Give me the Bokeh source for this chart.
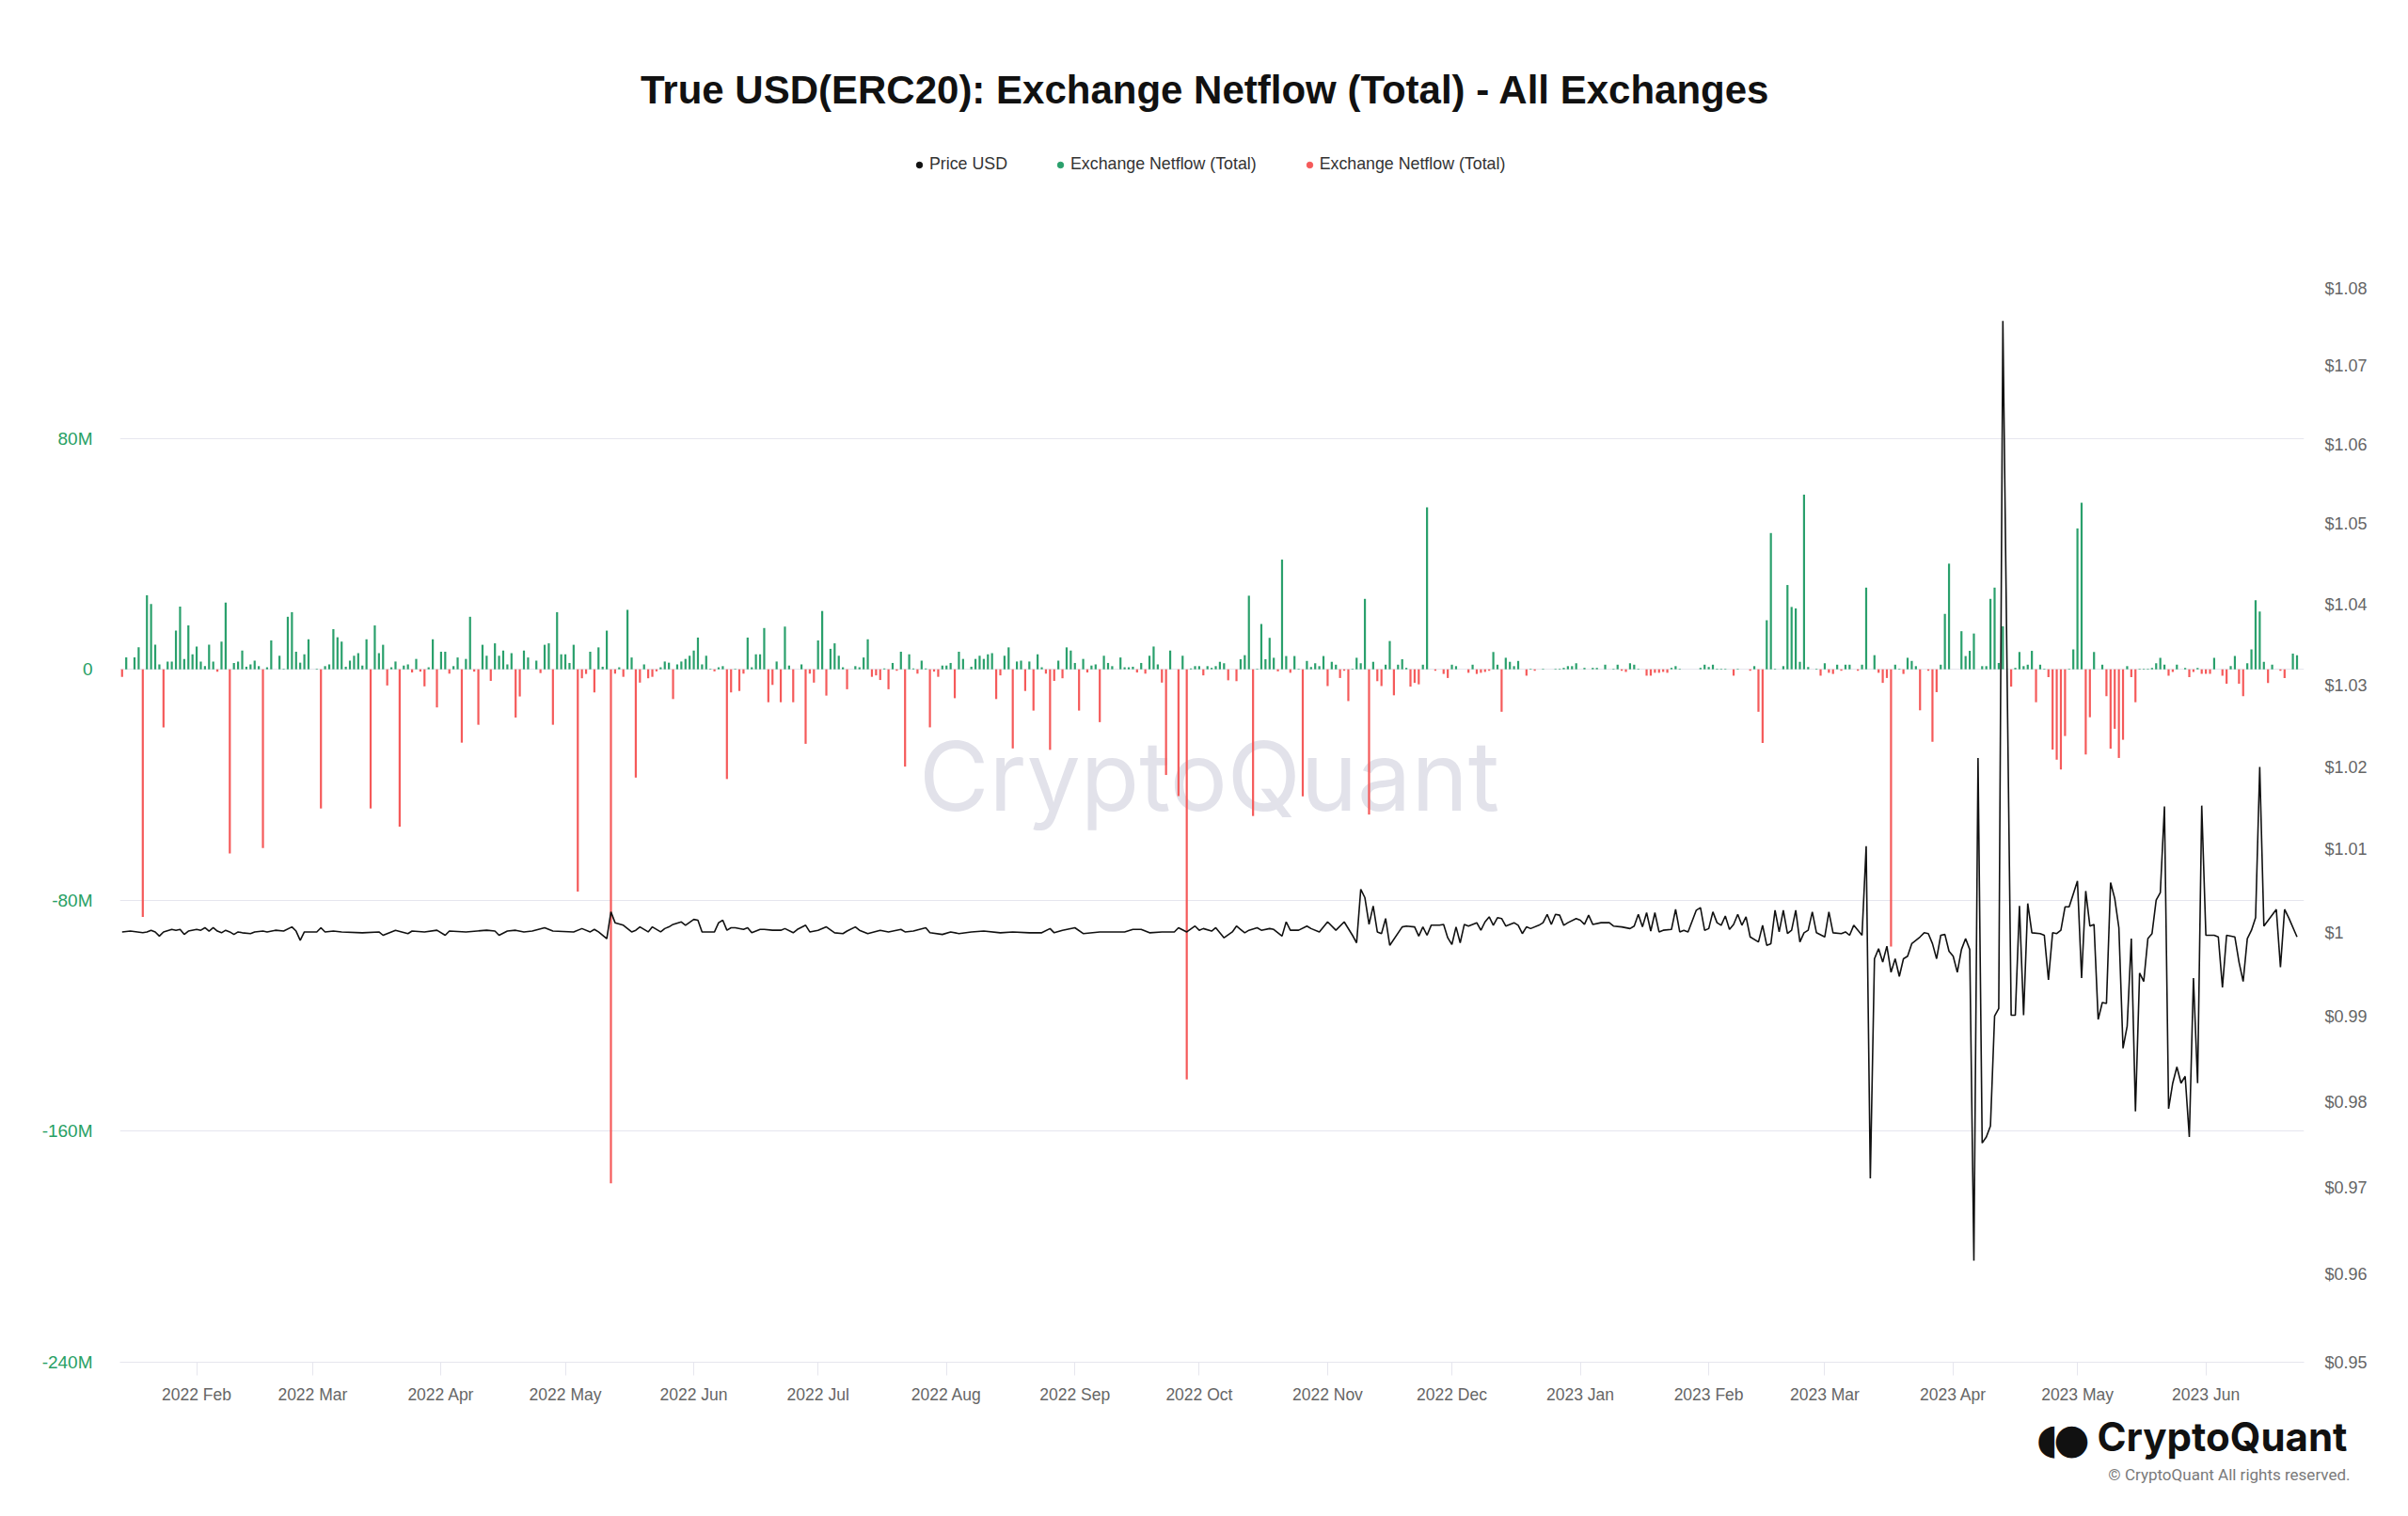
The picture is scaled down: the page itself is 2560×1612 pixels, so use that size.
import numpy as np
import pandas as pd
from bokeh.plotting import figure
from bokeh.layouts import column
from bokeh.models import (Range1d, LinearAxis, LogScale, FixedTicker, CustomJSTickFormatter,
                          DatetimeTickFormatter, Legend, LegendItem, Label, ColumnDataSource)
from bokeh.embed import file_html
from bokeh.resources import INLINE

# ---------------- data ----------------
START_DATE = "2022-01-14"   # day 0 of the daily series

# daily exchange netflow, million USD (day 0 .. 525)
netflow_musd = [
    -2.6, 4.1, 0, 4.1, 7.6, -85.8, 25.6, 22.6, 8.5, 1.7,          # 0
    -20.1, 2.7, 2.7, 13.4, 21.7, 3.6, 15.2, 5.2, 7.9, 2.7,        # 10
    1.1, 8.5, 2.7, -0.8, 9.6, 23.1, -63.8, 2.2, 2.7, 6.5,         # 20
    0.9, 1.7, 3.0, 1.1, -61.9, 0.7, 10.0, 0, 4.7, 0.2,            # 30
    18.2, 19.8, 6.1, 2.3, 5.2, 10.4, 0, 0.2, -48.2, 1.1,          # 40
    1.7, 13.9, 11.1, 9.6, 0.9, 3.0, 4.7, 5.6, 1.3, 10.4,          # 50
    -48.2, 15.2, 5.6, 8.5, -5.6, 0.7, 2.7, -54.5, 1.3, 1.7,       # 60
    -1.1, 3.6, -0.8, -5.9, 0.7, 10.4, -13.2, 6.1, 6.1, -1.5,      # 70
    1.1, 4.1, -25.4, 3.6, 18.2, -0.8, -19.2, 8.5, 4.7, -4.0,      # 80
    9.0, 4.7, 6.5, 1.7, 5.6, -16.7, -9.4, 6.5, 4.1, 0,            # 90
    3.0, -1.3, 8.5, 9.0, -19.2, 19.8, 5.2, 5.2, 2.2, 8.5,         # 100
    -77.0, -3.1, -1.6, 6.1, -8.0, 7.6, 0.9, 13.4, -178.0, -1.5,   # 110
    0.7, -2.6, 20.6, 4.1, -37.5, -4.6, 1.7, -3.1, -2.6, -0.7,     # 120
    0.7, 2.7, 2.3, -10.3, 1.7, 2.7, 3.6, 4.7, 6.5, 11.0,          # 130
    1.7, 4.7, 0.2, -0.7, 0.7, 1.1, -38.0, -8.0, 0.2, -7.5,        # 140
    -1.5, 11.0, 0.7, 5.2, 5.2, 14.3, -11.4, -5.4, 2.7, -11.4,     # 150
    14.8, 1.3, -11.4, 0, 1.7, -25.8, -1.5, -4.6, 10.0, 20.2,      # 160
    -9.1, 7.1, 9.0, 4.7, 0.7, -6.9, 0, 1.1, 0.7, 4.1,             # 170
    10.4, -2.6, -2.1, -3.7, 0.3, -6.9, 2.2, -0.5, 6.1, -33.7,     # 180
    5.2, 0.3, -1.5, 3.0, 0.3, -20.1, -0.8, -2.6, 1.3, 1.3,        # 190
    2.2, -10.0, 6.1, 3.6, 0, 0.9, 3.6, 4.7, 3.6, 5.2,             # 200
    5.6, -10.3, -2.1, 4.7, 7.6, -27.4, 2.7, 3.0, -7.5, 2.7,       # 210
    -14.3, 5.2, 0.7, -1.5, -27.9, -4.0, 3.0, -3.1, 7.6, 6.5,      # 220
    2.2, -14.3, 3.6, -1.1, 1.3, 1.7, -18.3, 4.7, 2.2, 1.1,        # 230
    0, 4.1, 0.7, 0.7, 0.9, -1.1, 2.2, -1.5, 4.7, 7.9,             # 240
    1.7, -4.6, -36.6, 6.5, 0, -43.9, 4.7, -142.0, 0.3, 1.1,       # 250
    1.1, -2.1, 1.1, 0.5, 1.1, 2.6, 2.1, -3.8, 0, -4.1,            # 260
    3.5, 4.9, 25.5, -50.8, 0.2, 15.7, 3.5, 10.9, 4.0, -0.7,       # 270
    38.0, 4.6, -1.2, 4.6, 0.2, -44.0, 2.9, 0.8, 2.1, 1.1,         # 280
    4.6, -5.8, 2.6, 1.6, -3.0, -0.5, -11.0, 0.2, 4.0, 2.1,        # 290
    24.4, -50.3, 2.6, -4.1, -5.8, 1.6, 9.8, -9.0, 1.6, 3.5,       # 300
    0.5, -6.0, -4.7, -5.2, 1.6, 56.1, 0, -0.5, 0, -1.6,           # 310
    -3.0, 1.6, 1.1, 0, 0, -1.2, 1.6, -1.6, -1.2, -0.9,            # 320
    -0.5, 6.0, 1.6, -14.7, 4.0, 2.6, 1.1, 2.9, 0, -2.2,           # 330
    0.2, -0.5, 0, 0.2, 0, 0, 0.2, 0.2, 0.5, 1.1,                  # 340
    1.1, 2.1, 0, 0.5, 0, 0.5, 0.5, 0, 1.6, 0,                     # 350
    0.2, 1.6, -0.5, -0.9, 2.1, 1.6, 0.2, 0, -2.2, -2.2,           # 360
    -1.2, -1.2, -0.9, -1.2, 0.5, 1.1, 0.2, 0, 0, 0,               # 370
    0, 0.5, 1.6, 0.8, 1.6, 0.2, 0.2, 0.2, 0, -2.2,                # 380
    0.2, 0, 0, -0.5, 1.1, -14.7, -25.5, 17.0, 47.2, 0.2,          # 390
    0, 1.1, 29.2, 21.6, 21.1, 2.6, 60.5, 0.8, 0, 0.2,             # 400
    -2.2, 2.1, -1.2, -1.6, 1.6, -0.5, 1.6, 1.6, 0, -0.5,          # 410
    1.6, 28.3, 0, 4.9, -1.2, -4.7, -3.0, -96.0, 1.6, 0.2,         # 420
    -1.6, 4.0, 2.9, 1.1, -14.2, 0, -0.5, -25.1, -7.9, 1.6,        # 430
    19.2, 36.6, 0, 0, 13.2, 4.6, 6.4, 12.4, 0, 1.1,               # 440
    1.1, 24.4, 28.3, 2.2, 14.9, 0, -6.0, 0.5, 6.0, 1.1,           # 450
    1.6, 6.4, -11.4, 1.6, 0.2, -2.7, -27.8, -31.3, -34.7, -23.1,  # 460
    0.2, 6.9, 48.8, 57.7, -29.5, -16.6, 6.0, 0, 1.6, -9.3,        # 470
    -27.5, -20.6, -30.7, -24.4, 1.1, -2.7, -11.4, 0.2, 0.2, 0.2,  # 480
    0.5, 2.1, 4.0, 1.6, -2.2, -0.9, 1.6, 0, 0.5, -2.7,            # 490
    -0.9, 0.5, -1.6, -1.6, -1.6, 4.0, 0, -2.2, -5.0, 1.1,         # 500
    4.6, -5.0, -9.3, 2.1, 6.9, 23.9, 20.0, 2.6, -4.7, 1.6,        # 510
    0, -0.5, -3.0, 0, 5.4, 4.9,                                   # 520
]

# price readings: (day offset from START_DATE, price in USD)
price_readings = [
    (0, 1.0001), (2, 1.0002), (5, 1.0000), (6, 1.0001), (7, 1.0003), (8, 1.0001), (9, 0.9996),
    (10, 1.0001), (12, 1.0004), (13, 1.0003), (14, 1.0004), (15, 0.9998), (16, 1.0002), (18, 1.0004),
    (19, 1.0003), (20, 1.0006), (21, 1.0002), (22, 1.0006), (23, 1.0002), (24, 1.0000), (25, 1.0003),
    (26, 1.0001), (27, 0.9998), (28, 1.0001), (29, 1.0000), (31, 0.9999), (32, 1.0001), (34, 1.0002),
    (35, 1.0001), (37, 1.0003), (39, 1.0002), (41, 1.0007), (42, 1.0002), (43, 0.9991), (44, 1.0001),
    (47, 1.0001), (48, 1.0006), (49, 1.0001), (51, 1.0002), (53, 1.0001), (58, 1.0000), (62, 1.0001),
    (63, 0.9997), (65, 1.0001), (66, 1.0003), (69, 0.9999), (70, 1.0002), (73, 1.0001), (76, 1.0003),
    (78, 0.9997), (79, 1.0002), (83, 1.0001), (88, 1.0003), (90, 1.0002), (91, 0.9997), (93, 1.0002),
    (95, 1.0003), (97, 1.0001), (99, 1.0002), (102, 1.0006), (104, 1.0002), (109, 1.0001), (111, 1.0005),
    (113, 1.0001), (114, 1.0004), (115, 1.0001), (117, 0.9993), (118, 1.0025), (119, 1.0012), (121, 1.0009),
    (123, 1.0001), (124, 1.0003), (125, 1.0007), (127, 1.0001), (128, 1.0007), (130, 1.0001),
    (131, 1.0005), (132, 1.0007), (133, 1.0010), (135, 1.0013), (136, 1.0009), (138, 1.0016), (139, 1.0015),
    (140, 1.0001), (143, 1.0001), (144, 1.0012), (145, 1.0015), (146, 1.0003), (147, 1.0006), (148, 1.0006),
    (150, 1.0004), (151, 1.0006), (152, 1.0000), (154, 1.0004), (155, 1.0004), (157, 1.0003), (159, 1.0003),
    (160, 1.0005), (162, 1.0000), (163, 1.0004), (165, 1.0009), (166, 1.0001), (168, 1.0003), (170, 1.0007),
    (172, 1.0000), (174, 0.9999), (175, 1.0002), (177, 1.0007), (178, 1.0003), (180, 0.9999), (183, 1.0003),
    (185, 1.0001), (188, 1.0004), (189, 1.0001), (191, 1.0002), (194, 1.0006), (195, 1.0000), (198, 0.9998),
    (200, 1.0001), (202, 0.9999), (205, 1.0001), (208, 1.0002), (212, 1.0000), (215, 1.0001), (219, 1.0000),
    (222, 1.0000), (224, 1.0005), (225, 1.0000), (227, 1.0003), (230, 1.0006), (232, 0.9999), (236, 1.0001),
    (239, 1.0001), (242, 1.0001), (244, 1.0004), (246, 1.0004), (248, 1.0000), (251, 1.0001), (254, 1.0001),
    (255, 1.0006), (257, 1.0001), (259, 1.0008), (260, 1.0003),
    (261, 1.0005), (263, 1.0002), (264, 1.0006), (266, 0.9994), (268, 1.0001), (269, 1.0008), (270, 1.0004),
    (271, 1.0000), (272, 1.0003), (274, 1.0006), (275, 1.0003), (277, 1.0005), (278, 1.0004), (280, 0.9996),
    (281, 1.0013), (282, 1.0003), (284, 1.0003), (286, 1.0008), (287, 1.0005), (289, 1.0001), (291, 1.0013),
    (293, 1.0003), (295, 1.0013), (297, 0.9997), (298, 0.9988), (299, 1.0052), (300, 1.0042), (301, 1.0010),
    (302, 1.0032), (303, 1.0001), (304, 0.9999), (305, 1.0017), (306, 0.9985), (309, 1.0007), (310, 1.0008),
    (312, 1.0007), (313, 0.9996), (314, 1.0007), (315, 0.9997), (316, 1.0009), (318, 1.0009), (319, 1.0010),
    (320, 0.9994), (321, 0.9986), (322, 1.0007), (323, 0.9988), (324, 1.0010), (325, 1.0008), (327, 1.0012),
    (328, 1.0003), (329, 1.0013), (330, 1.0019), (331, 1.0009), (332, 1.0018), (333, 1.0017), (334, 1.0008),
    (336, 1.0012), (337, 1.0009), (338, 0.9999), (339, 1.0007), (340, 1.0005), (342, 1.0009), (343, 1.0012),
    (344, 1.0022), (345, 1.0010), (346, 1.0022), (347, 1.0021), (348, 1.0009), (349, 1.0012), (351, 1.0017),
    (352, 1.0015), (353, 1.0010), (354, 1.0021), (355, 1.0010), (357, 1.0012), (359, 1.0012), (360, 1.0008),
    (362, 1.0007), (364, 1.0005), (365, 1.0008), (366, 1.0022), (367, 1.0007), (368, 1.0024), (369, 1.0002),
    (370, 1.0024), (371, 1.0001), (372, 1.0003), (374, 1.0004), (375, 1.0028), (376, 1.0001), (377, 1.0003),
    (378, 1.0001), (380, 1.0027), (381, 1.0030), (382, 1.0003), (383, 1.0005), (384, 1.0025), (385, 1.0012),
    (386, 1.0009), (387, 1.0020),
    (388, 1.0004), (389, 1.0010), (390, 1.0022), (391, 1.0009), (392, 1.0019), (393, 0.9995), (395, 0.9989),
    (396, 1.0009), (397, 0.9985), (398, 0.9987), (399, 1.0027), (400, 1.0001), (401, 1.0027), (402, 0.9999),
    (403, 1.0003), (404, 1.0027), (405, 0.9989), (406, 1.0000), (407, 1.0003), (408, 1.0025), (409, 1.0000),
    (411, 0.9995), (412, 1.0025), (413, 1.0000), (415, 0.9999), (416, 1.0001), (417, 0.9997), (418, 1.0009),
    (420, 0.9997), (421, 1.0104), (422, 0.9711), (423, 0.9969), (424, 0.9981), (425, 0.9965), (426, 0.9984),
    (427, 0.9953), (428, 0.9969), (429, 0.9948), (430, 0.9969), (431, 0.9972), (432, 0.9987), (434, 0.9995),
    (435, 1.0000), (436, 0.9999), (437, 0.9987), (438, 0.9969), (439, 0.9997), (440, 0.9998), (441, 0.9978),
    (442, 0.9972), (443, 0.9953), (444, 0.9980), (445, 0.9993), (446, 0.9980), (447, 0.9616), (448, 1.0211),
    (449, 0.9752), (450, 0.9759), (451, 0.9772), (452, 0.9901), (453, 0.9910), (454, 1.0758), (456, 0.9902),
    (457, 0.9902), (458, 1.0032), (459, 0.9902), (460, 1.0035), (461, 1.0000), (463, 0.9999), (464, 0.9997),
    (465, 0.9944), (466, 1.0000), (467, 0.9999), (468, 1.0003), (469, 1.0031), (470, 1.0031), (472, 1.0062),
    (473, 0.9946), (474, 1.0050), (475, 1.0008), (476, 1.0010), (477, 0.9897), (478, 0.9917), (479, 0.9916),
    (480, 1.0060), (481, 1.0041), (482, 1.0006), (483, 0.9863), (484, 0.9889), (485, 0.9993), (486, 0.9789),
    (487, 0.9952), (488, 0.9942), (489, 0.9993), (490, 0.9999), (491, 1.0039), (492, 1.0048), (493, 1.0152),
    (494, 0.9792), (495, 0.9822), (496, 0.9841), (497, 0.9822), (498, 0.9830), (499, 0.9759), (500, 0.9946),
    (501, 0.9822), (502, 1.0153), (503, 0.9997), (505, 0.9997), (506, 0.9995), (507, 0.9935), (508, 0.9997),
    (510, 0.9995), (511, 0.9965), (512, 0.9942), (513, 0.9993), (514, 1.0003), (515, 1.0018), (516, 1.0200),
    (517, 1.0008), (520, 1.0028), (521, 0.9959), (522, 1.0028), (523, 1.0018), (525, 0.9995),
]

month_ticks = ["2022-02-01", "2022-03-01", "2022-04-01", "2022-05-01", "2022-06-01", "2022-07-01",
               "2022-08-01", "2022-09-01", "2022-10-01", "2022-11-01", "2022-12-01", "2023-01-01",
               "2023-02-01", "2023-03-01", "2023-04-01", "2023-05-01", "2023-06-01"]
netflow_ticks = [-240, -160, -80, 0, 80]
netflow_grid = [-240, -160, -80, 0, 80, 160]
price_ticks = [0.95, 0.96, 0.97, 0.98, 0.99, 1.00, 1.01, 1.02, 1.03, 1.04, 1.05, 1.06, 1.07, 1.08]

title_text = "True USD(ERC20): Exchange Netflow (Total) - All Exchanges"
legend_labels = ["Price USD", "Exchange Netflow (Total)", "Exchange Netflow (Total)"]

GREEN = "#2aa06c"
RED = "#f55a5a"
BLACK = "#111111"
GRID = "#e6e6ee"

# ---------------- page geometry ----------------
W = 2560
HDR_H = 210          # header (title + legend)
MAIN_H = 1290        # chart
FTR_H = 100          # logo + copyright
FL, FT = 127, 10
FR = W - 2449
FB = MAIN_H - (1448 - HDR_H)

# ---------------- header ----------------
hdr = figure(width=W, height=HDR_H, x_range=Range1d(0, W), y_range=Range1d(0, HDR_H),
             output_backend="svg", toolbar_location=None, x_axis_location=None,
             y_axis_location=None, min_border=0, outline_line_color=None,
             background_fill_color="white", border_fill_color="white")
hdr.frame_align = False
hdr.grid.visible = False
hdr.add_layout(Label(x=1281, y=HDR_H - 95, x_units="screen", y_units="screen", text=title_text,
                     text_align="center", text_baseline="middle", text_font="Liberation Sans",
                     text_font_style="bold", text_font_size="42px", text_color="#111111"))
nan_src = dict(x=[np.nan], y=[np.nan])
l1 = hdr.scatter(x="x", y="y", source=ColumnDataSource(nan_src), marker="circle", color=BLACK)
l2 = hdr.scatter(x="x", y="y", source=ColumnDataSource(nan_src), marker="circle", color=GREEN)
l3 = hdr.scatter(x="x", y="y", source=ColumnDataSource(nan_src), marker="circle", color=RED)
legend = Legend(items=[LegendItem(label=legend_labels[0], renderers=[l1]),
                       LegendItem(label=legend_labels[1], renderers=[l2]),
                       LegendItem(label=legend_labels[2], renderers=[l3])],
                orientation="horizontal", location=(969, HDR_H - 185),
                glyph_width=16, glyph_height=16, label_standoff=3, spacing=48,
                padding=0, margin=0, border_line_color=None, background_fill_alpha=0,
                label_text_font="Liberation Sans", label_text_font_size="17.8px",
                label_text_color="#333333", label_height=20)
hdr.add_layout(legend, "center")

# ---------------- main chart ----------------
start = pd.Timestamp(START_DATE)
DAY_MS = 86400000.0

flow = np.array(netflow_musd, dtype=float)
flow_dates = (start + pd.to_timedelta(np.arange(len(flow)), unit="D")).values
pos = flow > 0
neg = flow < 0
src_pos = ColumnDataSource(dict(x=flow_dates[pos], top=flow[pos]))
src_neg = ColumnDataSource(dict(x=flow_dates[neg], top=flow[neg]))

p_days = np.array([d for d, _ in price_readings], dtype=float)
p_vals = [v for _, v in price_readings]
src_price = ColumnDataSource(dict(x=(start + pd.to_timedelta(p_days, unit="D")).values, y=p_vals))

p = figure(width=W, height=MAIN_H, x_axis_type="datetime",
           x_range=Range1d(start=start - pd.Timedelta(days=0.52), end=start + pd.Timedelta(days=526.7)),
           y_range=Range1d(-240, 160),
           output_backend="svg", toolbar_location=None,
           min_border_left=FL, min_border_right=FR, min_border_top=FT, min_border_bottom=FB,
           background_fill_color="white", border_fill_color="white", outline_line_color=None)
p.frame_align = False

p.extra_y_ranges = {"price": Range1d(0.95, 1.0905)}
p.extra_y_scales = {"price": LogScale()}

p.xgrid.visible = False
p.ygrid.ticker = FixedTicker(ticks=netflow_grid)
p.ygrid.grid_line_color = GRID
p.ygrid.grid_line_width = 1

ya = p.yaxis[0]
ya.ticker = FixedTicker(ticks=netflow_ticks)
ya.formatter = CustomJSTickFormatter(code="return tick == 0 ? '0' : tick + 'M';")
ya.axis_line_color = None
ya.major_tick_line_color = None
ya.minor_tick_line_color = None
ya.major_label_text_color = "#27a064"
ya.major_label_text_font = "Liberation Sans"
ya.major_label_text_font_size = "19px"
ya.major_label_standoff = 23

ra = LinearAxis(y_range_name="price", ticker=FixedTicker(ticks=price_ticks),
                formatter=CustomJSTickFormatter(code="return '$' + parseFloat(tick.toFixed(2));"))
ra.axis_line_color = None
ra.major_tick_line_color = None
ra.minor_tick_line_color = None
ra.major_label_text_color = "#666666"
ra.major_label_text_font = "Liberation Sans"
ra.major_label_text_font_size = "18px"
ra.major_label_standoff = 16
p.add_layout(ra, "right")

xa = p.xaxis[0]
xa.ticker = FixedTicker(ticks=[pd.Timestamp(m).value / 1e6 for m in month_ticks])
xa.formatter = DatetimeTickFormatter(months="%Y %b", days="%Y %b", years="%Y %b")
xa.axis_line_color = GRID
xa.major_tick_line_color = GRID
xa.major_tick_out = 14
xa.major_tick_in = 0
xa.minor_tick_line_color = None
xa.major_label_standoff = 10
xa.major_label_text_color = "#666666"
xa.major_label_text_font = "Liberation Sans"
xa.major_label_text_font_size = "17.5px"

# watermark inside the frame
p.add_layout(Label(x=1158, y=624, x_units="screen", y_units="screen", text="CryptoQuant",
                   text_align="center", text_baseline="middle", text_font="Inter",
                   text_font_size="102px", text_color="#e2e2ea", level="underlay"))

p.vbar(x="x", top="top", bottom=0, width=0.5 * DAY_MS, source=src_pos,
       fill_color=GREEN, line_color=None)
p.vbar(x="x", top="top", bottom=0, width=0.5 * DAY_MS, source=src_neg,
       fill_color=RED, line_color=None)
p.line("x", "y", source=src_price, y_range_name="price", line_color=BLACK, line_width=1.6)

# ---------------- footer ----------------
ftr = figure(width=W, height=FTR_H, x_range=Range1d(0, W), y_range=Range1d(0, FTR_H),
             output_backend="svg", toolbar_location=None, x_axis_location=None,
             y_axis_location=None, min_border=0, outline_line_color=None,
             background_fill_color="white", border_fill_color="white")
ftr.frame_align = False
ftr.grid.visible = False
ftr.add_layout(Label(x=2176, y=FTR_H - 29, x_units="screen", y_units="screen", text="◖",
                     text_align="center", text_baseline="middle", text_font="DejaVu Sans",
                     text_font_size="44px", text_color="#111111"))
ftr.add_layout(Label(x=2202, y=FTR_H - 29, x_units="screen", y_units="screen", text="●",
                     text_align="center", text_baseline="middle", text_font="DejaVu Sans",
                     text_font_size="44px", text_color="#111111"))
ftr.add_layout(Label(x=2495, y=FTR_H - 27, x_units="screen", y_units="screen", text="CryptoQuant",
                     text_align="right", text_baseline="middle", text_font="Inter",
                     text_font_style="bold", text_font_size="42px", text_color="#111111"))
ftr.add_layout(Label(x=2498, y=FTR_H - 67, x_units="screen", y_units="screen",
                     text="© CryptoQuant All rights reserved.",
                     text_align="right", text_baseline="middle", text_font="Roboto",
                     text_font_size="17px", text_color="#7a7a7a"))

layout = column(hdr, p, ftr, spacing=0)
open("out.html", "w").write(file_html(layout, INLINE))
